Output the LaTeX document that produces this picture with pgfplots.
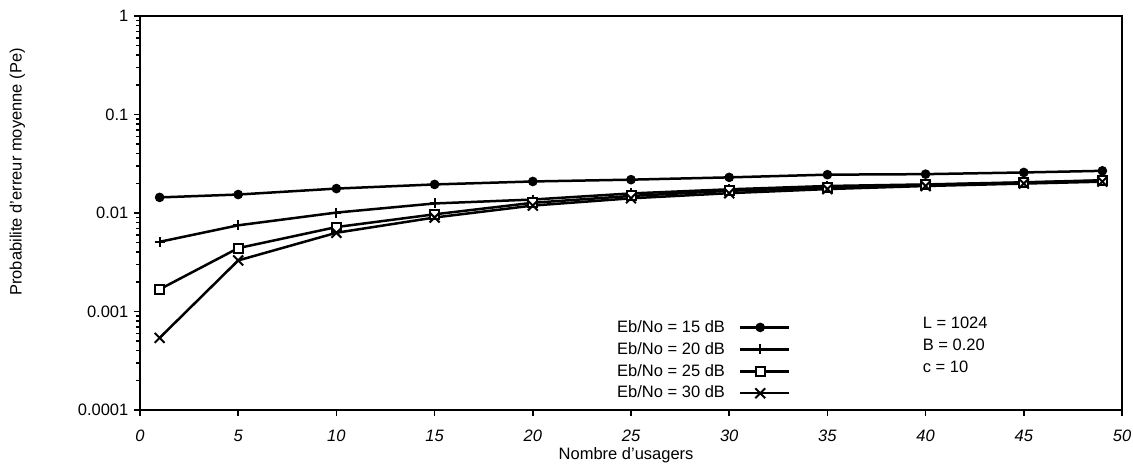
\documentclass[border=0pt]{standalone}
\usepackage{fontspec}
\setmainfont{Liberation Sans}
\usepackage{pgfplots}
\pgfplotsset{compat=1.18}
\begin{document}
\fontsize{16.5}{19}\selectfont
\begin{tikzpicture}
\begin{axis}[name=ax, ymode=log, scale only axis, width=982pt, height=394pt,
  clip=false,
  xmin=0, xmax=50, ymin=1e-4, ymax=1,
  xtick={0,5,...,50}, ytick={1e-4,1e-3,1e-2,1e-1,1},
  yticklabels={0.0001,0.001,0.01,0.1,1},
  tick align=outside, tick pos=left,
  major tick length=6pt, minor tick length=4pt,
  axis line style={line width=2.8pt},
  every tick/.style={line width=1.5pt, black},
  tick label style={font=\fontsize{16.5}{19}\selectfont},
  xticklabel style={yshift=-8pt, font=\fontsize{16.5}{19}\selectfont\itshape},
  /pgf/number format/assume math mode=true,
  every axis plot/.append style={black, line width=2.5pt},
  legend plot pos=right,
  legend cell align=left,
  legend style={draw=none, fill=none, at={(0.4837,0.2335)}, anchor=north west, inner sep=0pt,
    row sep=3.5pt, font=\fontsize{16.5}{19}\selectfont},
  legend image code/.code={\draw[mark repeat=2,mark phase=2,#1] plot coordinates {(0pt,0pt) (20pt,0pt) (49pt,0pt)};},
]
\addplot[mark=*, mark size=3.5pt, mark options={solid}] coordinates {
(1,0.0144) (5,0.0154) (10,0.0177) (15,0.0195) (20,0.0209) (25,0.0218) (30,0.0230) (35,0.0245) (40,0.0248) (45,0.0258) (49,0.0268)};
\addlegendentry{Eb/No = 15 dB\rule{12pt}{0pt}}
\addplot[mark=+, mark size=5pt, mark options={solid, line width=2pt}] coordinates {
(1,0.0051) (5,0.0075) (10,0.0101) (15,0.0125) (20,0.0137) (25,0.0158) (30,0.0174) (35,0.0188) (40,0.0195) (45,0.0205) (49,0.0215)};
\addlegendentry{Eb/No = 20 dB\rule{12pt}{0pt}}
\addplot[mark=square*, mark size=4.5pt, mark options={solid, fill=white, line width=2pt}] coordinates {
(1,0.00168) (5,0.0044) (10,0.0072) (15,0.0097) (20,0.0127) (25,0.0149) (30,0.0168) (35,0.0182) (40,0.0193) (45,0.0203) (49,0.0213)};
\addlegendentry{Eb/No = 25 dB\rule{12pt}{0pt}}
\addplot[mark=x, mark size=7pt, mark options={solid, line width=2pt}] coordinates {
(1,0.00054) (5,0.0033) (10,0.0063) (15,0.0090) (20,0.0119) (25,0.0141) (30,0.0159) (35,0.0175) (40,0.0188) (45,0.0199) (49,0.0208)};
\addlegendentry{Eb/No = 30 dB\rule{12pt}{0pt}}
\node[anchor=west, inner sep=0pt] at (axis description cs:0.797,0.221) {L = 1024};
\node[anchor=west, inner sep=0pt] at (axis description cs:0.797,0.165) {B = 0.20};
\node[anchor=west, inner sep=0pt] at (axis description cs:0.797,0.109) {c = 10};
\node[rotate=90, inner sep=0pt] at (axis description cs:-0.125,0.604) {Probabilite d'erreur moyenne (Pe)};
\node[inner sep=0pt] at (axis description cs:0.495,-0.114) {Nombre d'usagers};
\end{axis}
\pgfresetboundingbox
\path[use as bounding box] ([xshift=-140pt,yshift=-55pt]ax.south west) rectangle ([xshift=11pt,yshift=16pt]ax.north east);
\end{tikzpicture}
\end{document}
